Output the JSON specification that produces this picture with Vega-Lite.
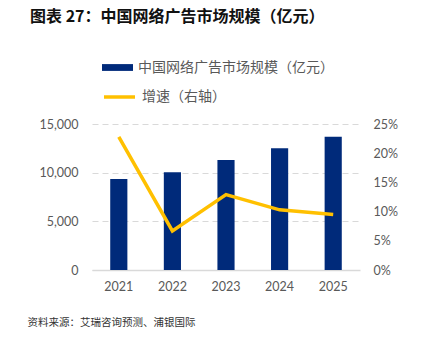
{
  "$schema": "https://vega.github.io/schema/vega-lite/v6.json",
  "width": 268,
  "height": 146,
  "autosize": "none",
  "padding": {"left": 92, "top": 124, "right": 65, "bottom": 72},
  "background": "white",
  "title": {
    "text": "图表 27：中国网络广告市场规模（亿元）",
    "anchor": "start",
    "frame": "group",
    "dx": -62,
    "font": "Noto Sans CJK SC",
    "fontSize": 16,
    "fontWeight": "bold",
    "color": "#111111",
    "offset": 27
  },
  "data": {
    "values": [
      {"year": "2021", "scale": 9350, "growth": 0.228},
      {"year": "2022", "scale": 10030, "growth": 0.067},
      {"year": "2023", "scale": 11300, "growth": 0.129},
      {"year": "2024", "scale": 12500, "growth": 0.103},
      {"year": "2025", "scale": 13700, "growth": 0.095}
    ]
  },
  "encoding": {
    "x": {
      "field": "year",
      "type": "ordinal",
      "scale": {"paddingInner": 0.68, "paddingOuter": 0.34},
      "axis": {
        "title": "资料来源：艾瑞咨询预测、浦银国际",
        "titleX": -65,
        "titleY": 52,
        "titleAlign": "left",
        "titleAnchor": null,
        "titleBaseline": "middle",
        "titleFont": "Noto Sans CJK SC",
        "titleFontSize": 10.5,
        "titleFontWeight": "normal",
        "titleColor": "#333333",
        "labelAngle": 0,
        "labelPadding": 10,
        "labelFont": "Lato",
        "labelFontSize": 12.5,
        "labelColor": "#595959",
        "ticks": false,
        "domain": true,
        "domainColor": "#D9D9D9",
        "domainWidth": 1.5
      }
    }
  },
  "layer": [
    {
      "mark": {"type": "bar", "color": "#002A7A"},
      "encoding": {
        "y": {
          "field": "scale",
          "type": "quantitative",
          "scale": {"domain": [0, 15000]},
          "axis": {
            "title": null,
            "values": [0, 5000, 10000, 15000],
            "format": ",.0f",
            "domain": false,
            "ticks": false,
            "labelPadding": 14,
            "labelFont": "Lato",
            "labelFontSize": 12.5,
            "labelColor": "#595959",
            "grid": true,
            "gridColor": "#D9D9D9",
            "gridDash": [6, 4],
            "gridWidth": 1
          }
        },
        "color": {
          "datum": "中国网络广告市场规模（亿元）",
          "scale": {"range": ["#002A7A"]},
          "legend": {
            "title": null,
            "orient": "none",
            "legendX": 10,
            "legendY": -72,
            "padding": 0,
            "symbolType": "M-1,-0.22H1V0.22H-1Z",
            "symbolSize": 961,
            "symbolStrokeWidth": 0,
            "labelOffset": 5,
            "labelFont": "Noto Sans CJK SC",
            "labelFontSize": 14,
            "labelColor": "#595959",
            "labelLimit": 300
          }
        }
      }
    },
    {
      "mark": {"type": "line", "color": "#FFC000", "strokeWidth": 3.5},
      "encoding": {
        "y": {
          "field": "growth",
          "type": "quantitative",
          "scale": {"domain": [0, 0.25]},
          "axis": {
            "orient": "right",
            "title": null,
            "values": [0, 0.05, 0.1, 0.15, 0.2, 0.25],
            "format": ".0%",
            "domain": false,
            "ticks": false,
            "grid": false,
            "labelPadding": 13,
            "labelFont": "Lato",
            "labelFontSize": 12.5,
            "labelColor": "#595959"
          }
        },
        "color": {
          "datum": "增速（右轴）",
          "scale": {"range": ["#FFC000"]},
          "legend": {
            "title": null,
            "orient": "none",
            "legendX": 10,
            "legendY": -44.5,
            "padding": 0,
            "symbolType": "M-1,0H1",
            "symbolSize": 961,
            "symbolStrokeWidth": 3.5,
            "labelOffset": 5,
            "labelFont": "Noto Sans CJK SC",
            "labelFontSize": 14,
            "labelColor": "#595959",
            "labelLimit": 300
          }
        }
      }
    }
  ],
  "resolve": {"scale": {"y": "independent", "color": "independent"}},
  "config": {"view": {"stroke": null}}
}
